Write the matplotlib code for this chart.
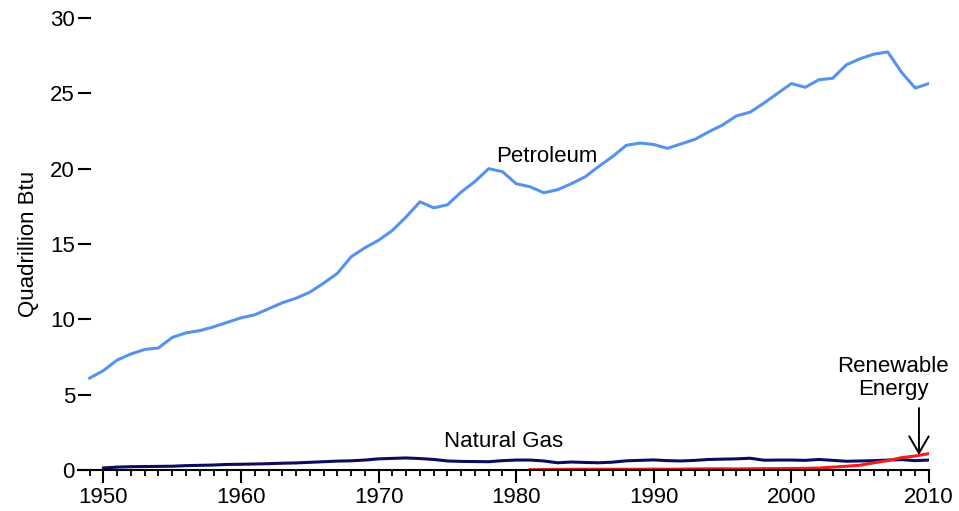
import numpy as np
import matplotlib
matplotlib.use("Agg")
import matplotlib.pyplot as plt
from matplotlib.ticker import MultipleLocator

plt.rcParams['font.family'] = ['Liberation Sans', 'DejaVu Sans']

years = list(range(1949, 2011))

# Quadrillion Btu
petroleum = [6.1, 6.6, 7.3, 7.7, 8.0, 8.1, 8.8, 9.1, 9.25, 9.5, 9.8,
             10.1, 10.3, 10.7, 11.1, 11.4, 11.8, 12.4, 13.05, 14.15, 14.75,
             15.25, 15.9, 16.8, 17.8, 17.4, 17.6, 18.45, 19.15, 20.0, 19.8,
             19.0, 18.8, 18.4, 18.6, 19.0, 19.45, 20.15, 20.8, 21.55, 21.7,
             21.6, 21.35, 21.65, 21.95, 22.45, 22.9, 23.5, 23.75, 24.35, 25.0,
             25.65, 25.4, 25.9, 26.0, 26.9, 27.3, 27.6, 27.75, 26.4, 25.35,
             25.65]

gas_years = list(range(1950, 2011))
natural_gas = [0.14, 0.19, 0.22, 0.23, 0.24, 0.25, 0.29, 0.31, 0.33, 0.37,
               0.38, 0.40, 0.42, 0.45, 0.47, 0.51, 0.55, 0.59, 0.61, 0.66,
               0.74, 0.77, 0.80, 0.76, 0.70, 0.60, 0.57, 0.56, 0.55, 0.62,
               0.66, 0.66, 0.60, 0.48, 0.53, 0.50, 0.48, 0.52, 0.61, 0.64,
               0.67, 0.62, 0.60, 0.64, 0.70, 0.72, 0.74, 0.78, 0.65, 0.66,
               0.66, 0.64, 0.70, 0.64, 0.58, 0.60, 0.62, 0.66, 0.69, 0.62,
               0.66]

renew_years = list(range(1981, 2011))
renewable = [0.02, 0.03, 0.04, 0.05, 0.05, 0.05, 0.05, 0.05, 0.05,
             0.06, 0.05, 0.06, 0.07, 0.08, 0.08, 0.07, 0.08, 0.09, 0.09,
             0.10, 0.11, 0.13, 0.19, 0.25, 0.32, 0.48, 0.62, 0.82, 0.93,
             1.09]

fig = plt.figure(figsize=(9.59, 5.11), dpi=100)
ax = fig.add_axes([78 / 959, 41 / 511, 851 / 959, 452 / 511])

ax.plot(years, petroleum, color='#5593ec', lw=2.2)
ax.plot(gas_years, natural_gas, color='#0b0b5f', lw=2.2)
ax.plot(renew_years, renewable, color='#f41c1c', lw=2.2)

ax.set_xlim(1948.15, 2010)
ax.set_ylim(0, 30)

for s in ['top', 'right', 'left']:
    ax.spines[s].set_visible(False)
ax.spines['bottom'].set_linewidth(1.5)

ax.xaxis.set_major_locator(MultipleLocator(10))
ax.xaxis.set_minor_locator(MultipleLocator(1))
ax.set_yticks([0, 5, 10, 15, 20, 25, 30])
ax.tick_params(axis='x', which='major', length=9, width=1.5, labelsize=16, pad=3)
ax.tick_params(axis='x', which='minor', length=4.5, width=1.3)
ax.tick_params(axis='y', direction='in', length=9.4, width=1.5, labelsize=16, pad=2.2)

ax.set_ylabel('Quadrillion Btu', fontsize=16)
ax.yaxis.set_label_coords(-0.046, 0.5)

ax.text(1978.53, 20.44, 'Petroleum', fontsize=16, ha='left', va='baseline')
ax.text(1979.11, 1.55, 'Natural Gas', fontsize=16, ha='center', va='baseline')
ax.text(2007.41, 6.50, 'Renewable', fontsize=16, ha='center', va='baseline')
ax.text(2007.41, 4.98, 'Energy', fontsize=16, ha='center', va='baseline')
ax.annotate('', xy=(2009.27, 1.0), xytext=(2009.27, 4.11),
            arrowprops=dict(arrowstyle='->,head_length=0.6,head_width=0.35',
                            color='black', lw=1.4, mutation_scale=20,
                            shrinkA=0, shrinkB=0))

fig.savefig('out.png', dpi=100)
